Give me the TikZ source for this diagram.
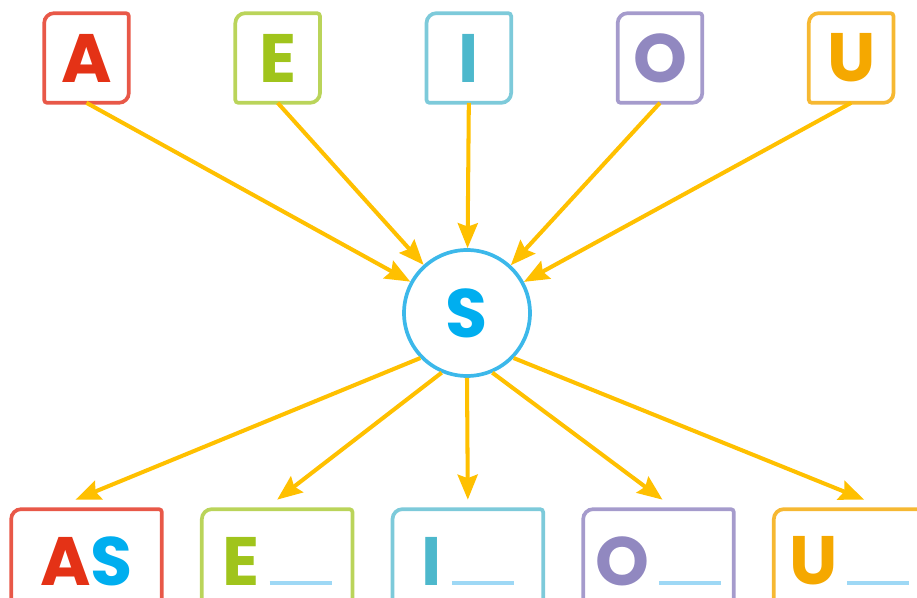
\documentclass[tikz,border=0pt]{standalone}
\usepackage{fontspec}
\setmainfont{Poppins}
\usetikzlibrary{positioning,arrows.meta}
\definecolor{ArrowYellow}{RGB}{255,192,0}
\definecolor{RedA}{RGB}{228,50,22}
\definecolor{RedLine}{RGB}{232,88,72}
\definecolor{GreenE}{RGB}{160,196,28}
\definecolor{GreenLine}{RGB}{186,212,90}
\definecolor{TealI}{RGB}{77,184,204}
\definecolor{TealLine}{RGB}{125,202,218}
\definecolor{PurpleO}{RGB}{145,136,192}
\definecolor{PurpleLine}{RGB}{165,155,204}
\definecolor{OrangeU}{RGB}{245,168,0}
\definecolor{OrangeLine}{RGB}{246,184,50}
\definecolor{BlueS}{RGB}{0,174,239}
\definecolor{BlueLine}{RGB}{60,184,234}
\definecolor{BlankBlue}{RGB}{158,216,245}

\newcommand{\bigletters}{\fontsize{39}{39}\selectfont\bfseries}
\newcommand{\blank}{\hspace{0.2cm}\textcolor{BlankBlue}{\rule{1.24cm}{0.08cm}}}
% frame with two big and two small rounded corners, top and bottom pushed out by #3
\newcommand{\leafframe}[3]{%
  \draw[#2, line width=2.1pt] (#1.west) [rounded corners=0.2cm] -- ([yshift=#3]#1.north west) -- ([yshift=#3]#1.north)
    [rounded corners=0.06cm] -- ([yshift=#3]#1.north east) -- (#1.east)
    [rounded corners=0.2cm] -- ([yshift=-#3]#1.south east) -- ([yshift=-#3]#1.south)
    [rounded corners=0.06cm] -- ([yshift=-#3]#1.south west) -- cycle;}

\tikzset{
  vowel/.style={minimum width=1.68cm, minimum height=1.78cm, inner sep=0pt, font=\bigletters},
  answer/.style={minimum width=3.0cm, minimum height=1.48cm, inner sep=0pt, font=\bigletters},
  link/.style={draw=ArrowYellow, line width=2.3pt, -{Stealth[length=0.5cm, width=0.4cm, inset=0.07cm]}},
}

\begin{document}
\begin{tikzpicture}[x=0.02cm, y=-0.02cm]
  \useasboundingbox (0,0) rectangle (917,598);

  % top row
  \node[vowel, text=RedA] (a) at (86.5,58) {A};
  \node[vowel, text=GreenE, right=2.13cm of a] (e) {E};
  \node[vowel, text=TealI, right=2.13cm of e] (i) {I};
  \node[vowel, text=PurpleO, right=2.13cm of i] (o) {O};
  \node[vowel, text=OrangeU, right=2.13cm of o] (u) {U};
  \leafframe{a}{RedLine}{0pt}
  \leafframe{e}{GreenLine}{0pt}
  \leafframe{i}{TealLine}{0pt}
  \leafframe{o}{PurpleLine}{0pt}
  \leafframe{u}{OrangeLine}{0pt}

  % centre letter
  \node[circle, draw=BlueLine, line width=2.1pt, minimum size=2.52cm, inner sep=0pt,
        font=\bigletters, text=BlueS] (s) at (467,313) {S};

  % bottom row
  \node[answer] (as) at (86.5,561) {\textcolor{RedA}{A}\textcolor{BlueS}{S}};
  \node[answer, right=0.8cm of as] (eb) {\textcolor{GreenE}{E}\blank};
  \node[answer, right=0.8cm of eb] (ib) {\textcolor{TealI}{I}\blank};
  \node[answer, right=0.8cm of ib] (ob) {\textcolor{PurpleO}{O}\blank};
  \node[answer, right=0.8cm of ob] (ub) {\textcolor{OrangeU}{U}\blank};
  \leafframe{as}{RedLine}{0.29cm}
  \leafframe{eb}{GreenLine}{0.29cm}
  \leafframe{ib}{TealLine}{0.29cm}
  \leafframe{ob}{PurpleLine}{0.29cm}
  \leafframe{ub}{OrangeLine}{0.29cm}

  \draw[link] (a.south) -- (s);
  \draw[link] (e.south) -- (s);
  \draw[link] (i.south) -- (s);
  \draw[link] (o.south) -- (s);
  \draw[link] (u.south) -- (s);

  \draw[link] (s.224) -- ([xshift=-0.22cm, yshift=0.48cm]as.north);
  \draw[link] (s.247) -- ([yshift=0.48cm]eb.north);
  \draw[link] (s.270) -- ([yshift=0.48cm]ib.north);
  \draw[link] (s.293) -- ([xshift=0.08cm, yshift=0.48cm]ob.north);
  \draw[link] (s.316) -- ([xshift=0.3cm, yshift=0.48cm]ub.north);
\end{tikzpicture}
\end{document}
